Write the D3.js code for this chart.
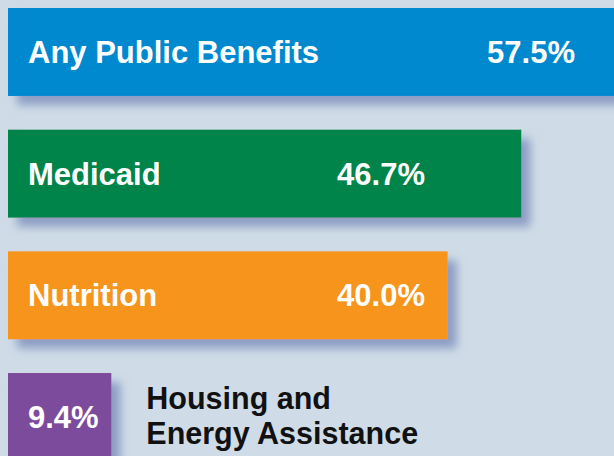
<!DOCTYPE html>
<html>
<head>
<meta charset="utf-8">
<script src="https://cdn.jsdelivr.net/npm/d3@7"></script>
<style>
  html, body { margin: 0; padding: 0; background: #cfdce7; }
  svg { display: block; }
</style>
</head>
<body>
<script>
const categories = ['Any Public Benefits', 'Medicaid', 'Nutrition', 'Housing and Energy Assistance'];
const values = [57.5, 46.7, 40.0, 9.4];
const valueLabels = ['57.5%', '46.7%', '40.0%', '9.4%'];
const colors = ['#0089cf', '#00844a', '#f7941e', '#7d4b9b'];

const width = 614, height = 456;
const font = '"Liberation Sans", Arial, sans-serif';

const svg = d3.select('body').append('svg').attr('width', width).attr('height', height);

svg.append('rect').attr('width', width).attr('height', height).attr('fill', '#cfdce7');

// soft bluish drop shadow behind each bar
const filter = svg.append('defs').append('filter')
    .attr('id', 'shadow')
    .attr('x', '-10%').attr('y', '-20%')
    .attr('width', '130%').attr('height', '160%');
filter.append('feDropShadow')
    .attr('dx', 9).attr('dy', 9)
    .attr('stdDeviation', 5)
    .attr('flood-color', '#8596c0')
    .attr('flood-opacity', 0.9);

const x = d3.scaleLinear().domain([0, 57.5]).range([8, 640]);
const y = d3.scaleBand().domain(categories).range([8, 461]).paddingInner(0.277).paddingOuter(0);

const rows = svg.selectAll('g.row')
    .data(categories)
    .enter().append('g')
    .attr('class', 'row');

rows.append('rect')
    .attr('x', x(0))
    .attr('y', d => y(d))
    .attr('width', (d, i) => x(values[i]) - x(0))
    .attr('height', y.bandwidth())
    .attr('fill', (d, i) => colors[i])
    .attr('filter', 'url(#shadow)');

const mid = d => y(d) + y.bandwidth() / 2 + 11;
const isSmall = i => values[i] < 20;

// category name inside the bar for the wide ones
rows.filter((d, i) => !isSmall(i)).append('text')
    .attr('x', 28)
    .attr('y', d => mid(d))
    .attr('fill', '#fff')
    .attr('font-family', font)
    .attr('font-weight', 'bold')
    .attr('font-size', 31)
    .text(d => d);

// value labels
rows.append('text')
    .attr('x', (d, i) => isSmall(i) ? 28 : (i === 0 ? 575 : 425))
    .attr('y', d => mid(d))
    .attr('text-anchor', (d, i) => isSmall(i) ? 'start' : 'end')
    .attr('fill', '#fff')
    .attr('font-family', font)
    .attr('font-weight', 'bold')
    .attr('font-size', 31)
    .text((d, i) => valueLabels[i]);

// category name outside the short bar, on two lines
const labelX = x(values[3]) + 35;
const outside = rows.filter((d, i) => isSmall(i)).append('text')
    .attr('y', d => y(d) + 36)
    .attr('fill', '#111')
    .attr('font-family', font)
    .attr('font-weight', 'bold')
    .attr('font-size', 30.5);
outside.append('tspan').attr('x', labelX).text('Housing and');
outside.append('tspan').attr('x', labelX).attr('dy', 35).text('Energy Assistance');
</script>
</body>
</html>
